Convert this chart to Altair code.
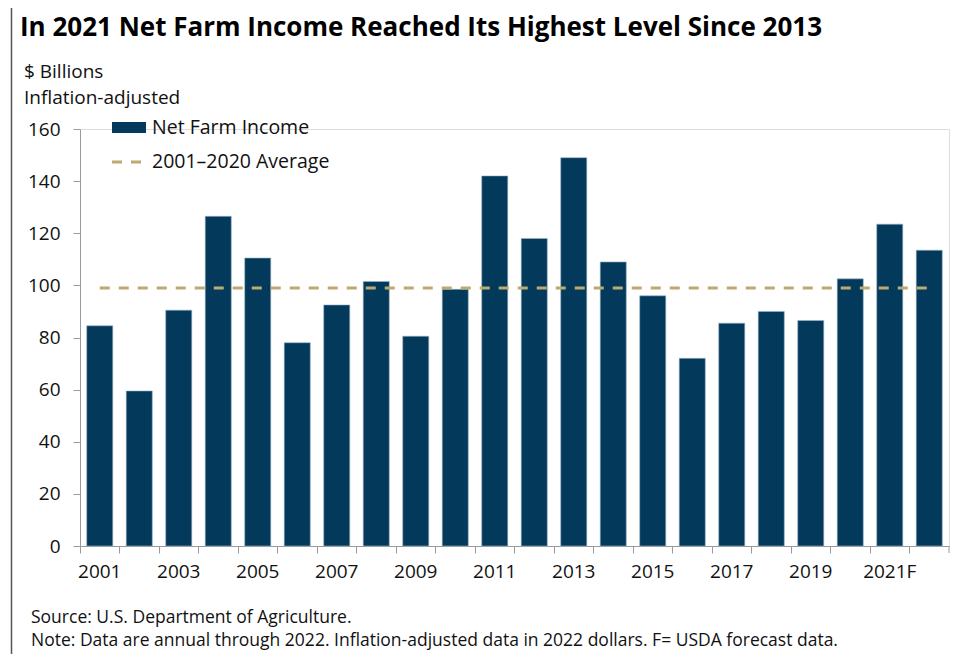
import altair as alt
import pandas as pd

years = ["2001", "2002", "2003", "2004", "2005", "2006", "2007", "2008", "2009", "2010",
         "2011", "2012", "2013", "2014", "2015", "2016", "2017", "2018", "2019", "2020",
         "2021F", "2022F"]
net_income = [84.5, 59.5, 90.5, 126.5, 110.5, 78.0, 92.5, 101.5, 80.5, 98.5,
              142.0, 118.0, 149.0, 109.0, 96.0, 72.0, 85.5, 90.0, 86.5, 102.5,
              123.5, 113.5]
average_2001_2020 = 99.0

title_text = "In 2021 Net Farm Income Reached Its Highest Level Since 2013"
unit_lines = ["$ Billions", "Inflation-adjusted"]
legend_labels = ["Net Farm Income", "2001\u20132020  Average"]
notes = ["Source: U.S. Department of Agriculture.",
         "Note: Data are annual through 2022. Inflation-adjusted data in 2022 dollars. F= USDA forecast data."]

BAR = "#033A5C"
AVG = "#BCAA70"
AXIS = "#9A9A9A"
FONT = "Open Sans"

df = pd.DataFrame({"year": years, "value": net_income,
                   "avg": [average_2001_2020] * len(years)})

W, H = 869, 417

x_enc = alt.X("year:N", sort=years, title=None,
              scale=alt.Scale(paddingInner=0, paddingOuter=0),
              axis=alt.Axis(bandPosition=0, labelAngle=0, labelFontSize=19,
                            labelFont=FONT, labelColor="#111", labelPadding=9,
                            tickSize=7, tickColor=AXIS, domainColor=AXIS,
                            labelExpr="parseInt(datum.value) % 2 == 1 ? datum.value : ''"))
y_enc = alt.Y("value:Q", title=None,
              scale=alt.Scale(domain=[0, 160], nice=False),
              axis=alt.Axis(values=[0, 20, 40, 60, 80, 100, 120, 140, 160], grid=False,
                            labelFontSize=19, labelFont=FONT, labelColor="#111",
                            labelPadding=13, tickSize=7, tickColor=AXIS, domainColor=AXIS))

bars = alt.Chart(df).mark_bar(color=BAR, width=alt.RelativeBandSize(0.66),
                              stroke="#9fb6c8", strokeWidth=0.6).encode(x=x_enc, y=y_enc)

avg_line = alt.Chart(df).mark_line(color=AVG, strokeDash=[10, 9], strokeWidth=3).encode(
    x=alt.X("year:N", sort=years), y=alt.Y("avg:Q"))

end_tick = alt.Chart(pd.DataFrame({"a": [0]})).mark_rule(color=AXIS).encode(
    x=alt.value(W), y=alt.value(H), y2=alt.value(H + 7))


def txt(s, x, y, size, weight="normal", color="#111"):
    return alt.Chart(pd.DataFrame({"t": [s]})).mark_text(
        align="left", baseline="alphabetic", fontSize=size, font=FONT,
        fontWeight=weight, color=color).encode(x=alt.value(x), y=alt.value(y), text="t:N")


title = txt(title_text, -60, -93, 26, "bold", "#000")
u1 = txt(unit_lines[0], -56, -51, 19)
u2 = txt(unit_lines[1], -56, -25, 19)
leg_rect = alt.Chart(pd.DataFrame({"a": [0]})).mark_rect(color=BAR).encode(
    x=alt.value(32), x2=alt.value(66), y=alt.value(-7), y2=alt.value(4))
leg_line = alt.Chart(pd.DataFrame({"a": [0]})).mark_rule(
    color=AVG, strokeDash=[10, 9], strokeWidth=3).encode(
    x=alt.value(32), x2=alt.value(64), y=alt.value(33))
l1 = txt(legend_labels[0], 72, 5, 19.5)
l2 = txt(legend_labels[1], 72, 39, 19.5)
n1 = txt(notes[0], -49, 494, 17.5)
n2 = txt(notes[1], -49, 517, 17.5)

border_top = alt.Chart(pd.DataFrame({"a": [0]})).mark_rule(color="#555", strokeWidth=2).encode(
    x=alt.value(-69), x2=alt.value(W + 20), y=alt.value(-122))
border_left = alt.Chart(pd.DataFrame({"a": [0]})).mark_rule(color="#555", strokeWidth=1.5).encode(
    x=alt.value(-68.5), y=alt.value(-122), y2=alt.value(H + 130))

chart = alt.layer(bars, avg_line, end_tick, title, u1, u2, leg_rect, leg_line, l1, l2,
                  n1, n2, border_top, border_left).properties(
    width=W, height=H, autosize="none",
    padding={"left": 72, "top": 121, "right": 3, "bottom": 108},
).configure_view(stroke=None).configure(background="white")

chart.save("out.html", embed_options={"renderer": "svg", "actions": False})
